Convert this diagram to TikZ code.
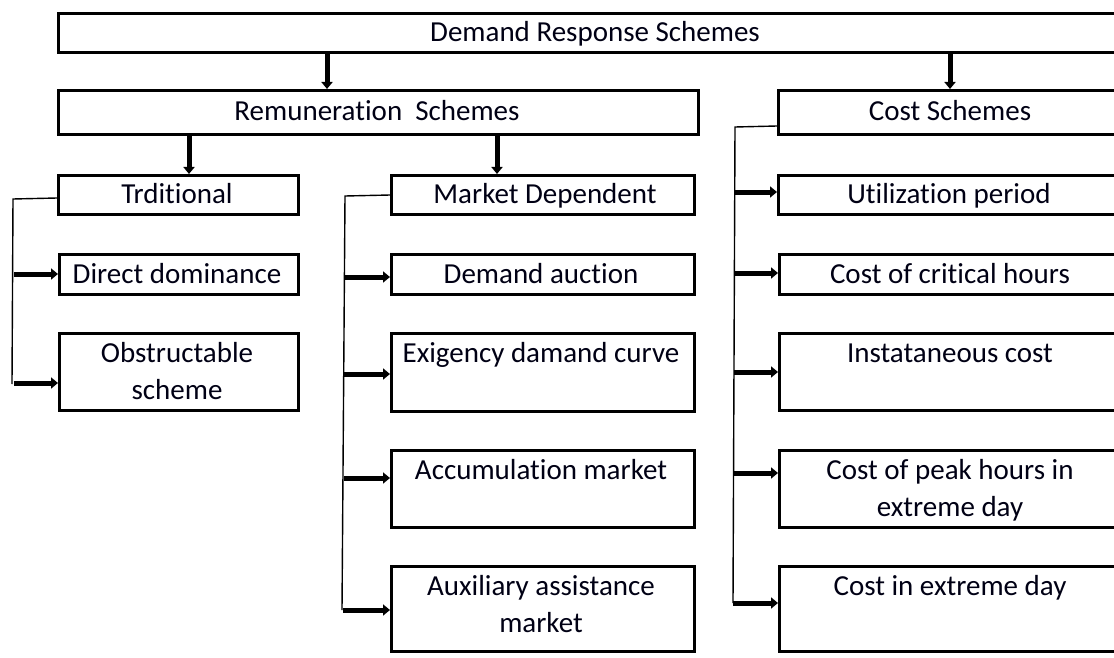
\documentclass[tikz,border=0pt]{standalone}
\usepackage{fontspec}
\setmainfont[Ligatures=NoCommon]{Carlito}
\usetikzlibrary{arrows.meta}
\begin{document}
\begin{tikzpicture}[x=1pt,y=-1pt,
  box/.style={draw=black, line width=2.8pt, inner sep=0pt, anchor=north west},
  txt/.style={font=\fontsize{29}{37}\selectfont, inner sep=0pt, anchor=base, align=center, text=black!92!blue},
  arr/.style={line width=5pt, -{Triangle[length=7pt,width=11pt]}},
  thin/.style={line width=1.4pt}]
\useasboundingbox (0,0) rectangle (1114,658);
\clip (0,0) rectangle (1114,658);
% boxes
\node[box, minimum width=1070pt, minimum height=39pt] (top) at (57,12) {};
\node[box, minimum width=640pt, minimum height=44pt] (rem) at (57,89) {};
\node[box, minimum width=345pt, minimum height=44pt] (cost) at (777,89) {};
\node[box, minimum width=240pt, minimum height=39pt] (trad) at (57,174) {};
\node[box, minimum width=303pt, minimum height=39pt] (mkt) at (390,174) {};
\node[box, minimum width=345pt, minimum height=39pt] (util) at (777,174) {};
\node[box, minimum width=239pt, minimum height=40pt] (dd) at (58,253) {};
\node[box, minimum width=239pt, minimum height=77pt] (obs) at (58,332) {};
\node[box, minimum width=303pt, minimum height=40pt] (da) at (390,253) {};
\node[box, minimum width=303pt, minimum height=78pt] (exi) at (390,332) {};
\node[box, minimum width=303pt, minimum height=77pt] (acc) at (390,449) {};
\node[box, minimum width=303pt, minimum height=85pt] (aux) at (390,565) {};
\node[box, minimum width=344pt, minimum height=40pt] (crit) at (778,253) {};
\node[box, minimum width=344pt, minimum height=77pt] (inst) at (778,332) {};
\node[box, minimum width=344pt, minimum height=77pt] (peak) at (778,449) {};
\node[box, minimum width=344pt, minimum height=85pt] (ext) at (778,565) {};
% texts (multi-line nodes are placed by the baseline of their last line)
\node[txt] (t-top) at (595,42) {Demand Response Schemes};
\node[txt] (t-rem) at (377,121) {Remuneration\ \ Schemes};
\node[txt] (t-cost) at (950,121) {Cost Schemes};
\node[txt] (t-trad) at (177,204) {Trditional};
\node[txt] (t-mkt) at (545,204) {Market Dependent};
\node[txt] (t-util) at (949,204) {Utilization period};
\node[txt] (t-dd) at (177,283) {Direct dominance};
\node[txt] (t-obs) at (177,399) {Obstructable\\scheme};
\node[txt] (t-da) at (541,283) {Demand auction};
\node[txt] (t-exi) at (541,362) {Exigency damand curve};
\node[txt] (t-acc) at (541,479) {Accumulation market};
\node[txt] (t-aux) at (541,632) {Auxiliary assistance\\market};
\node[txt] (t-crit) at (950,283) {Cost of critical hours};
\node[txt] (t-inst) at (950,362) {Instataneous cost};
\node[txt] (t-peak) at (950,516) {Cost of peak hours in\\extreme day};
\node[txt] (t-ext) at (950,595) {Cost in extreme day};
% down arrows
\coordinate (xa) at (327,0);
\coordinate (xb) at (950,0);
\coordinate (xc) at (189,0);
\coordinate (xd) at (497,0);
\draw[arr] (top.south -| xa) -- (rem.north -| xa);
\draw[arr] (top.south -| xb) -- (cost.north -| xb);
\draw[arr] (rem.south -| xc) -- (trad.north -| xc);
\draw[arr] (rem.south -| xd) -- (mkt.north -| xd);
% left bracket
\coordinate (lt) at (13,199);
\coordinate (lb) at (12,384);
\coordinate (ltb) at (57,198);
\draw[thin] (ltb) -- (lt) -- (lb);
\coordinate (l1) at (14,274);
\coordinate (l2) at (14,383);
\draw[arr] (l1) -- (l1 -| dd.west);
\draw[arr] (l2) -- (l2 -| obs.west);
% middle bracket
\coordinate (mt) at (345,196);
\coordinate (mb) at (342,610);
\coordinate (mtb) at (390,195);
\draw[thin] (mtb) -- (mt) -- (mb);
\coordinate (m1) at (345,277);
\coordinate (m2) at (344,374);
\coordinate (m3) at (344,478);
\coordinate (m4) at (343,610);
\draw[arr] (m1) -- (m1 -| da.west);
\draw[arr] (m2) -- (m2 -| exi.west);
\draw[arr] (m3) -- (m3 -| acc.west);
\draw[arr] (m4) -- (m4 -| aux.west);
% right bracket
\coordinate (rt) at (735,127);
\coordinate (rb) at (733,603);
\coordinate (rtb) at (777,126);
\draw[thin] (rtb) -- (rt) -- (rb);
\coordinate (r1) at (735,192);
\coordinate (r2) at (734,273);
\coordinate (r3) at (734,372);
\coordinate (r4) at (734,473);
\coordinate (r5) at (733,603);
\draw[arr] (r1) -- (r1 -| util.west);
\draw[arr] (r2) -- (r2 -| crit.west);
\draw[arr] (r3) -- (r3 -| inst.west);
\draw[arr] (r4) -- (r4 -| peak.west);
\draw[arr] (r5) -- (r5 -| ext.west);
\end{tikzpicture}
\end{document}
